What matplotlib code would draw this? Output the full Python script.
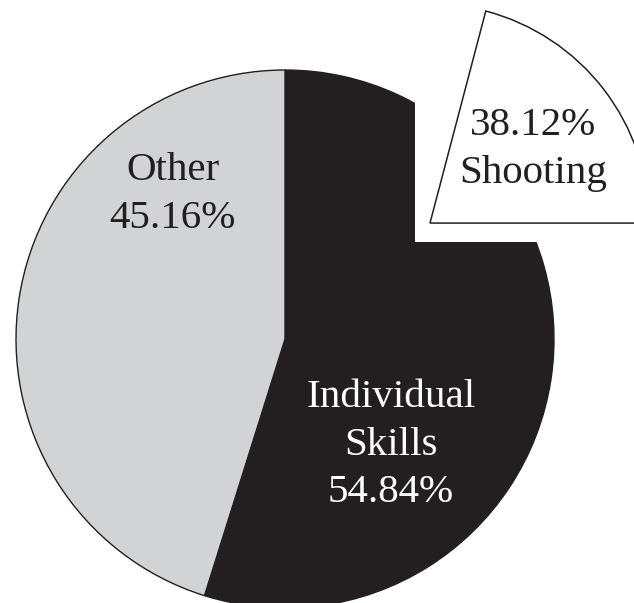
import matplotlib
matplotlib.use("Agg")
import matplotlib.pyplot as plt
from matplotlib.patches import Wedge, Rectangle

# data
categories = ["Individual\nSkills", "Other"]
shares = [54.84, 45.16]
sub_label = "Shooting"
sub_share = 38.12          # share of Individual Skills

ink = "#231f20"
grey = "#d1d3d4"

plt.rcParams["font.family"] = ["Liberation Serif", "DejaVu Serif"]

fig = plt.figure(figsize=(6.34, 6.03), dpi=100)
ax = fig.add_axes([0, 0, 1, 1])

ax.pie(shares, colors=[ink, grey], startangle=90, counterclock=False,
       radius=1, wedgeprops=dict(edgecolor=ink, linewidth=1.0))

# notch cut out of the top right of the big slice
ax.add_patch(Rectangle((0.483, 0.3606), 1.5, 1.5, facecolor="white",
                       edgecolor="none", zorder=3))

# exploded piece
sub_angle = 360 * shares[0] / 100 * sub_share / 100
ax.add_patch(Wedge((0.539, 0.431), 0.815, 0, sub_angle, facecolor="white",
                   edgecolor=ink, linewidth=1.1, zorder=4))

fs = 29.5
step = 0.177
def lines(x, y, txt, color):
    for i, s in enumerate(txt.split("\n")):
        ax.text(x, y - i * step, s, ha="center", va="baseline",
                fontsize=fs, color=color, zorder=5)

lines(0.394, -0.2528, "%s\n%.2f%%" % (categories[0], shares[0]), "white")
lines(-0.418, 0.591, "%s\n%.2f%%" % (categories[1], shares[1]), ink)
lines(0.924, 0.758, "%.2f%%\n%s" % (sub_share, sub_label), ink)

ax.set_xlim(-1.0595, 1.2974)
ax.set_ylim(-0.9814, 1.2602)
ax.set_aspect("equal")
ax.axis("off")

fig.savefig("out.png", dpi=100)
